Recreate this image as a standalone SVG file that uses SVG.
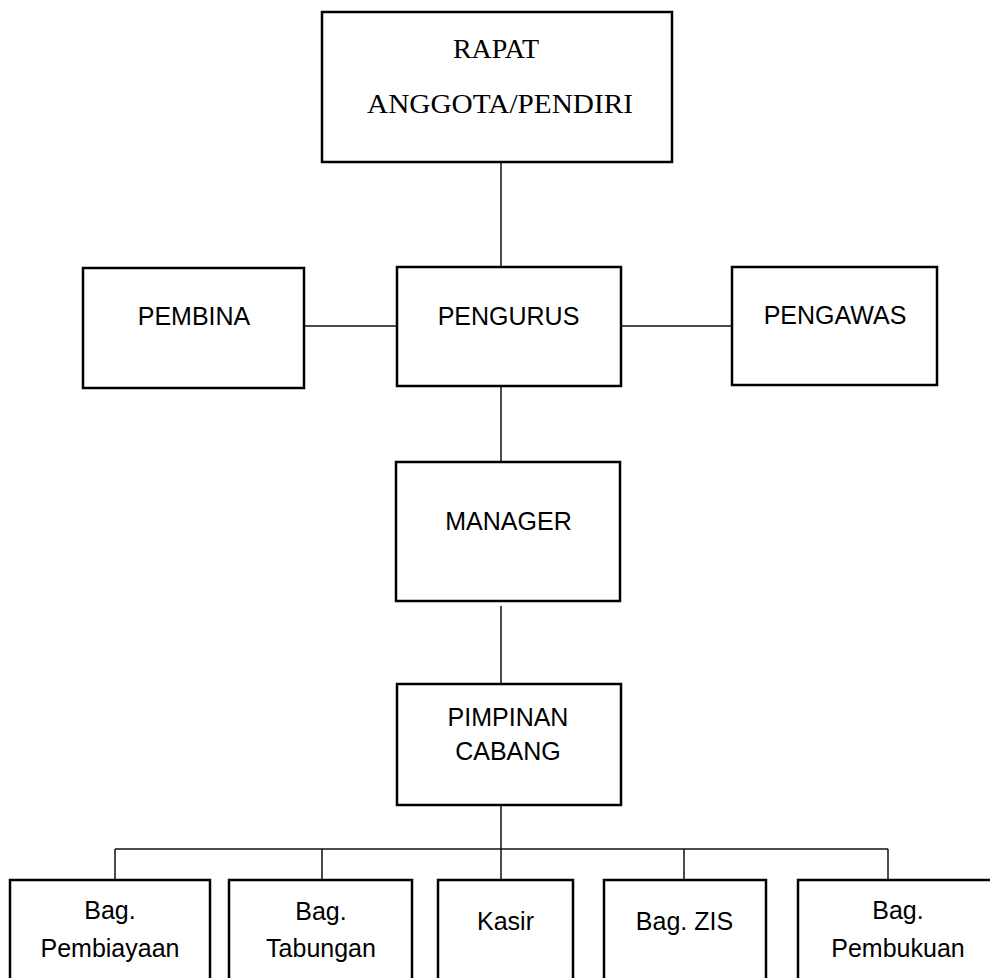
<svg xmlns="http://www.w3.org/2000/svg" width="990" height="978" viewBox="0 0 990 978">
<style>
.box{fill:#fff;stroke:#000;stroke-width:2.5}
.ln{fill:none;stroke:#111;stroke-width:1.5}
.t{font-family:"Liberation Sans",Arial,sans-serif;font-size:25px;fill:#000;text-anchor:middle}
.s{font-family:"Liberation Serif","Times New Roman",serif;font-size:28px;fill:#000;text-anchor:middle}
</style>
<rect width="990" height="978" fill="#fff"/>
<g id="connectors">
<line class="ln" x1="501" y1="162" x2="501" y2="267"/>
<line class="ln" x1="304" y1="326" x2="397" y2="326"/>
<line class="ln" x1="621" y1="326" x2="732" y2="326"/>
<line class="ln" x1="501" y1="386" x2="501" y2="462"/>
<line class="ln" x1="501" y1="606" x2="501" y2="684"/>
<line class="ln" x1="501" y1="805" x2="501" y2="880"/>
<line class="ln" x1="115" y1="849" x2="888" y2="849"/>
<line class="ln" x1="115" y1="849" x2="115" y2="880"/>
<line class="ln" x1="322" y1="849" x2="322" y2="880"/>
<line class="ln" x1="684" y1="849" x2="684" y2="880"/>
<line class="ln" x1="888" y1="849" x2="888" y2="880"/>
</g>
<g id="rapat">
<rect class="box" x="322" y="12" width="350" height="150"/>
<text class="s" x="496" y="58">RAPAT</text>
<text class="s" x="500" y="113" textLength="266" lengthAdjust="spacingAndGlyphs">ANGGOTA/PENDIRI</text>
</g>
<g id="pembina">
<rect class="box" x="83" y="268" width="221" height="120"/>
<text class="t" x="194" y="325">PEMBINA</text>
</g>
<g id="pengurus">
<rect class="box" x="397" y="267" width="224" height="119"/>
<text class="t" x="508.5" y="325">PENGURUS</text>
</g>
<g id="pengawas">
<rect class="box" x="732" y="267" width="205" height="118"/>
<text class="t" x="835" y="324">PENGAWAS</text>
</g>
<g id="manager">
<rect class="box" x="396" y="462" width="224" height="139"/>
<text class="t" x="508.5" y="530">MANAGER</text>
</g>
<g id="pimpinan">
<rect class="box" x="397" y="684" width="224" height="121"/>
<text class="t" x="508" y="726">PIMPINAN</text>
<text class="t" x="508" y="760">CABANG</text>
</g>
<g id="pembiayaan">
<rect class="box" x="10" y="880" width="200" height="110"/>
<text class="t" x="110" y="919">Bag.</text>
<text class="t" x="110" y="957">Pembiayaan</text>
</g>
<g id="tabungan">
<rect class="box" x="229" y="880" width="183" height="110"/>
<text class="t" x="321" y="920">Bag.</text>
<text class="t" x="321" y="957">Tabungan</text>
</g>
<g id="kasir">
<rect class="box" x="438" y="880" width="135" height="110"/>
<text class="t" x="505.5" y="930">Kasir</text>
</g>
<g id="zis">
<rect class="box" x="604" y="880" width="162" height="110"/>
<text class="t" x="684.5" y="930">Bag. ZIS</text>
</g>
<g id="pembukuan">
<rect class="box" x="798" y="880" width="200" height="110"/>
<text class="t" x="898" y="919">Bag.</text>
<text class="t" x="898" y="957">Pembukuan</text>
</g>
</svg>
